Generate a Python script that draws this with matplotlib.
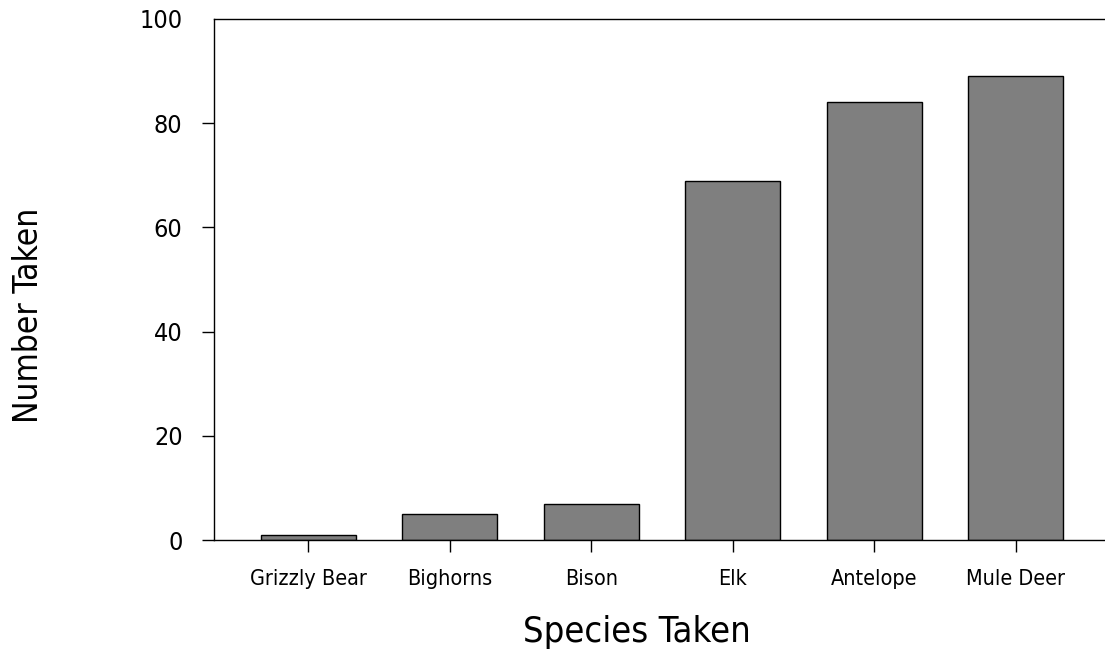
import matplotlib
matplotlib.use("Agg")
import matplotlib.pyplot as plt
import numpy as np

species = ["Grizzly Bear", "Bighorns", "Bison", "Elk", "Antelope", "Mule Deer"]
taken = [1, 5, 7, 69, 84, 89]
yticks = [0, 20, 40, 60, 80, 100]

plt.rcParams['font.family'] = ['DejaVu Sans']
plt.rcParams['font.stretch'] = 'condensed'
plt.rcParams['font.weight'] = 'light'

fig = plt.figure(figsize=(11.05, 6.56), dpi=100)
ax = fig.add_axes([214 / 1105, 1 - 540 / 656, 1 - 214 / 1105, 521 / 656])

x = np.arange(len(species))
ax.bar(x, taken, width=0.67, color="#7f7f7f", edgecolor="black", linewidth=1.0)

ax.set_xlim(-0.665, 5.63)
ax.set_ylim(0, 100)
ax.set_yticks(yticks)
ax.set_xticks(x)
ax.set_xticklabels(species)
# no tick mark at the top value, only the label
ax.yaxis.get_major_ticks()[-1].tick1line.set_visible(False)

ax.spines['right'].set_visible(False)
for s in ['left', 'bottom', 'top']:
    ax.spines[s].set_linewidth(1.0)
ax.tick_params(axis='both', direction='out', length=8.6, width=1.0)
ax.tick_params(axis='y', labelsize=18, pad=14)
ax.tick_params(axis='x', labelsize=15.5, pad=12)

ax.set_xlabel("Species Taken", fontsize=26)
ax.set_ylabel("Number Taken", fontsize=24)
ax.xaxis.set_label_coords((637 - 214) / 891, (540 - 632) / 521)
ax.yaxis.set_label_coords((29 - 214) / 891, (540 - 315) / 521)
ax.xaxis.label.set_va('center')
ax.yaxis.label.set_va('center')

fig.savefig("out.png", dpi=100)
